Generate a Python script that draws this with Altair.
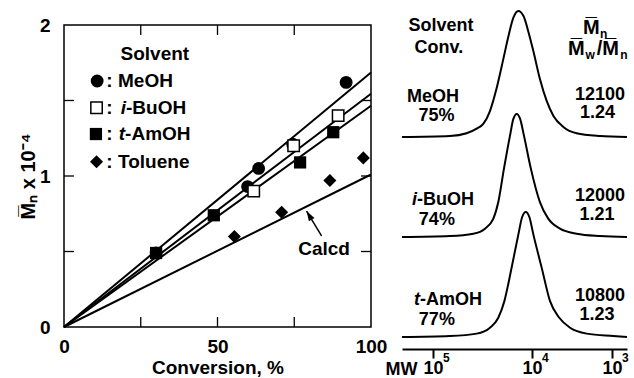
import altair as alt
import pandas as pd

FONT = "Liberation Sans"

# ---------------- left panel: Mn vs conversion ----------------
meoh_conv = [30.0, 59.8, 63.4, 74.5, 91.9]
meoh_mn = [0.49, 0.93, 1.05, 1.21, 1.62]
ibuoh_conv = [61.8, 74.8, 89.3]
ibuoh_mn = [0.90, 1.20, 1.40]
tamoh_conv = [30.0, 48.8, 76.9, 87.7]
tamoh_mn = [0.49, 0.74, 1.09, 1.29]
tol_conv = [55.5, 70.9, 86.6, 97.5]
tol_mn = [0.60, 0.76, 0.97, 1.12]

fit_names = ["MeOH", "i-BuOH", "t-AmOH", "Calcd"]
fit_mn_at_100 = [1.685, 1.545, 1.465, 1.01]

x_label_values = [0, 50, 100]
y_label_values = [0, 1, 2]
x_minor_ticks = [25, 50, 75]
y_minor_ticks = [0.5, 1.0, 1.5]

legend_title = "Solvent"
legend_italic = ["", "i", "t", ""]
legend_rest = ["MeOH", "-BuOH", "-AmOH", "Toluene"]
legend_sym_x = [10.8, 10.6, 10.4, 10.6]
legend_y = [1.629, 1.452, 1.278, 1.095]
legend_colon_x = 13.8
legend_rest_x = [17.6, 20.2, 19.9, 17.6]
legend_title_xy = (29.6, 1.805)

calcd_label_xy = (84.7, 0.517)
arrow_tail = (83.9, 0.603)
arrow_head = (79.0, 0.768)

# ---------------- right panel: GPC traces ----------------
trace_names = ["MeOH", "i-BuOH", "t-AmOH"]
trace_offset = [2, 1, 0]
trace_peak = [1.26, 1.23, 1.25]
meoh_pos = [0, 21.3, 28.7, 33.2, 36.2, 39.1, 42.1, 45.0, 47.3, 49.5, 51.7, 54.0, 56.1,
            58.4, 61.3, 64.3, 67.3, 71.7, 77.6, 88.0, 100]
meoh_int = [0, .008, .03, .066, .106, .206, .39, .616, .80, .947, 1.0, .96, .84,
            .68, .46, .286, .167, .08, .03, .008, 0]
ibuoh_pos = [0, 21.3, 31.7, 36.9, 40.6, 42.8, 45.3, 48.0, 49.5, 51.0, 52.5, 54.2, 57.3,
             61.3, 65.0, 70.2, 77.6, 88.0, 100]
ibuoh_int = [0, .008, .027, .068, .149, .284, .554, .824, .96, 1.0, .96, .824, .554,
             .284, .149, .068, .027, .008, 0]
tamoh_pos = [0, 21.3, 33.2, 39.1, 42.8, 45.5, 48.7, 51.7, 53.4, 55.0, 56.6, 58.4, 62.1,
             65.8, 69.9, 74.7, 82.1, 93.9, 100]
tamoh_int = [0, .008, .027, .074, .154, .287, .553, .819, .96, 1.0, .96, .819, .553,
             .287, .154, .074, .027, .008, 0]

mw_tick_pos = [13.8, 57.8, 93.3]
mw_tick_base = "10"
mw_tick_exp = ["5", "4", "3"]
mw_exp_y = -0.21

r_center_text = ["Solvent", "Conv.", "MeOH", "75%", "74%", "77%",
                 "12100", "1.24", "12000", "1.21", "10800", "1.23"]
r_center_x = [17.3, 16.4, 13.8, 15.3, 15.5, 15.5, 88.0, 86.9, 88.0, 86.7, 88.0, 86.7]
r_center_y = [3.11, 2.89, 2.405, 2.215, 1.175, 0.175, 2.425, 2.245, 1.41, 1.22, 0.41, 0.22]
r_italic = ["i", "t"]
r_rest = ["-BuOH", "-AmOH"]
r_split_x = [6.7, 8.0]
r_split_y = [1.37, 0.375]
# header  Mn  /  Mw/Mn  (big letters + small subscripts)
hdr_big = ["M\u0305", "M\u0305", "/", "M\u0305"]
hdr_big_x = [80.4, 73.8, 86.6, 89.0]
hdr_big_y = [3.09, 2.88, 2.88, 2.88]
hdr_sub = ["n", "w", "n"]
hdr_sub_x = [88.0, 81.6, 97.0]
hdr_sub_y = [3.09, 2.88, 2.88]

# ================= left chart =================
W_L, H_L = 307, 302
LX = alt.Scale(domain=[0, 100], nice=False, zero=False)
LY = alt.Scale(domain=[0, 2], nice=False, zero=False)
lx_axis = alt.Axis(values=x_label_values, ticks=False, domain=False, grid=False,
                   labelPadding=10, labelFlush=False, labelOverlap=False, labelFontSize=19, format=".0f",
                   title="Conversion, %", titleFontSize=19, titleY=46,
                   titleBaseline="alphabetic")
ly_axis = alt.Axis(values=y_label_values, ticks=False, domain=False, grid=False,
                   labelPadding=14, labelFlush=False, labelOverlap=False, labelFontSize=19, format=".0f",
                   title="M\u0305\u2099 x 10\u207b\u2074", titleFontSize=20, titleAngle=270,
                   titleX=-36, titleY=151, titleBaseline="middle", titleAlign="center")


def lx(f="x"):
    return alt.X(f"{f}:Q", scale=LX, axis=lx_axis)


def ly(f="y"):
    return alt.Y(f"{f}:Q", scale=LY, axis=ly_axis)


fit_rows = []
for n, m in zip(fit_names, fit_mn_at_100):
    fit_rows.append({"name": n, "x": 0, "y": 0})
    fit_rows.append({"name": n, "x": 100, "y": m})
fits = alt.Chart(pd.DataFrame(fit_rows)).mark_line(color="black", strokeWidth=2).encode(
    x=lx(), y=ly(), detail="name:N")

xt = pd.DataFrame({"x": x_minor_ticks})
yt = pd.DataFrame({"y": y_minor_ticks})
tick_style = dict(color="black", strokeWidth=1.3)
t_top = alt.Chart(xt).mark_rule(**tick_style).encode(x=lx(), y=alt.value(0), y2=alt.value(10))
t_bot = alt.Chart(xt).mark_rule(**tick_style).encode(x=lx(), y=alt.value(H_L - 10), y2=alt.value(H_L))
t_left = alt.Chart(yt).mark_rule(**tick_style).encode(y=ly(), x=alt.value(0), x2=alt.value(10))
t_right = alt.Chart(yt).mark_rule(**tick_style).encode(y=ly(), x=alt.value(W_L - 10), x2=alt.value(W_L))

circ = pd.DataFrame({"x": meoh_conv + [legend_sym_x[0]], "y": meoh_mn + [legend_y[0]]})
osq = pd.DataFrame({"x": ibuoh_conv + [legend_sym_x[1]], "y": ibuoh_mn + [legend_y[1]]})
fsq = pd.DataFrame({"x": tamoh_conv + [legend_sym_x[2]], "y": tamoh_mn + [legend_y[2]]})
dia = pd.DataFrame({"x": tol_conv + [legend_sym_x[3]], "y": tol_mn + [legend_y[3]]})

p_circ = alt.Chart(circ).mark_point(shape="circle", filled=True, color="black", opacity=1, size=165).encode(x=lx(), y=ly())
p_osq = alt.Chart(osq).mark_point(shape="square", filled=True, fill="white", stroke="black", strokeWidth=1.5,
                                  opacity=1, size=130).encode(x=lx(), y=ly())
p_fsq = alt.Chart(fsq).mark_point(shape="square", filled=True, color="black", opacity=1, size=150).encode(x=lx(), y=ly())
p_dia = alt.Chart(dia).mark_point(shape="diamond", filled=True, color="black", opacity=1, size=170).encode(x=lx(), y=ly())

txt_style = dict(font=FONT, fontWeight="bold", color="black", fontSize=19)

leg_title = alt.Chart(pd.DataFrame({"x": [legend_title_xy[0]], "y": [legend_title_xy[1]], "t": [legend_title]})).mark_text(
    **txt_style, align="center", baseline="middle").encode(x=lx(), y=ly(), text="t:N")
leg_colon = alt.Chart(pd.DataFrame({"x": [legend_colon_x] * 4, "y": legend_y, "t": [":"] * 4})).mark_text(
    **txt_style, align="left", baseline="middle").encode(x=lx(), y=ly(), text="t:N")
leg_rest = alt.Chart(pd.DataFrame({"x": legend_rest_x, "y": legend_y, "t": legend_rest})).mark_text(
    **txt_style, align="left", baseline="middle").encode(x=lx(), y=ly(), text="t:N")
leg_it_df = pd.DataFrame({"x": legend_rest_x, "y": legend_y, "t": legend_italic})
leg_it_df = leg_it_df[leg_it_df["t"] != ""]
leg_it = alt.Chart(leg_it_df).mark_text(
    **txt_style, align="right", baseline="middle", fontStyle="italic").encode(x=lx(), y=ly(), text="t:N")

calcd = alt.Chart(pd.DataFrame({"x": [calcd_label_xy[0]], "y": [calcd_label_xy[1]], "t": ["Calcd"]})).mark_text(
    **txt_style, align="center", baseline="middle").encode(x=lx(), y=ly(), text="t:N")
arrow_df = pd.DataFrame({"x": [arrow_tail[0]], "y": [arrow_tail[1]], "x2": [arrow_head[0]], "y2": [arrow_head[1]]})
arrow_line = alt.Chart(arrow_df).mark_rule(color="black", strokeWidth=1.5).encode(
    x=lx(), y=ly(), x2="x2:Q", y2="y2:Q")
head_df = pd.DataFrame({"x": [arrow_head[0]], "y": [arrow_head[1]]})
arrow_tip = alt.Chart(head_df).mark_point(shape="M0,0L0.65,2L-0.65,2Z", filled=True, color="black", opacity=1,
                                         size=100, angle=329).encode(x=lx(), y=ly())

left = alt.layer(fits, t_top, t_bot, t_left, t_right, p_circ, p_osq, p_fsq, p_dia,
                 leg_title, leg_colon, leg_rest, leg_it, calcd, arrow_line, arrow_tip).properties(
    width=W_L, height=H_L, view=alt.ViewBackground(stroke="black", strokeWidth=1.5))

# ================= right chart =================
W_R, H_R = 225, 302
RX = alt.Scale(domain=[0, 100], nice=False, zero=False)
RY = alt.Scale(domain=[0.1, 3.12], nice=False, zero=False)
rx_axis = alt.Axis(values=mw_tick_pos, labelExpr=f"'{mw_tick_base}'", offset=22, grid=False,
                   domain=True, domainColor="black", domainWidth=2,
                   ticks=True, tickColor="black", tickWidth=2, tickSize=9,
                   labelPadding=1, labelFontSize=18, labelFlush=False, labelOverlap=False,
                   title="MW", titleFontSize=18, titleX=-1, titleY=20, titleAngle=0,
                   titleAlign="center", titleBaseline="middle")


def rx():
    return alt.X("x:Q", scale=RX, axis=rx_axis)


def ry():
    return alt.Y("y:Q", scale=RY, axis=None)


rows = []
for name, off, pk, pos, inten in zip(trace_names, trace_offset, trace_peak,
                                     [meoh_pos, ibuoh_pos, tamoh_pos],
                                     [meoh_int, ibuoh_int, tamoh_int]):
    for p, v in zip(pos, inten):
        rows.append({"name": name, "x": p, "y": off + pk * v})
traces = alt.Chart(pd.DataFrame(rows)).mark_line(color="black", strokeWidth=2, interpolate="monotone").encode(
    x=rx(), y=ry(), detail="name:N")

rstyle = dict(font=FONT, fontWeight="bold", color="black", fontSize=18)
r_center = alt.Chart(pd.DataFrame({"x": r_center_x, "y": r_center_y, "t": r_center_text})).mark_text(
    **rstyle, align="center", baseline="middle").encode(x=rx(), y=ry(), text="t:N")
r_rest_l = alt.Chart(pd.DataFrame({"x": r_split_x, "y": r_split_y, "t": r_rest})).mark_text(
    **rstyle, align="left", baseline="middle").encode(x=rx(), y=ry(), text="t:N")
r_it_l = alt.Chart(pd.DataFrame({"x": r_split_x, "y": r_split_y, "t": r_italic})).mark_text(
    **rstyle, align="right", baseline="middle", fontStyle="italic").encode(x=rx(), y=ry(), text="t:N")
h_big = alt.Chart(pd.DataFrame({"x": hdr_big_x, "y": hdr_big_y, "t": hdr_big})).mark_text(
    font=FONT, fontWeight="bold", color="black", fontSize=20, align="left", baseline="middle").encode(
    x=rx(), y=ry(), text="t:N")
h_sub = alt.Chart(pd.DataFrame({"x": hdr_sub_x, "y": hdr_sub_y, "t": hdr_sub})).mark_text(
    font=FONT, fontWeight="bold", color="black", fontSize=12, align="left", baseline="middle", dy=6).encode(
    x=rx(), y=ry(), text="t:N")
mw_exp = alt.Chart(pd.DataFrame({"x": mw_tick_pos, "y": [mw_exp_y] * 3, "t": mw_tick_exp})).mark_text(
    font=FONT, fontWeight="bold", color="black", fontSize=12, align="left", baseline="middle", dx=10).encode(
    x=rx(), y=ry(), text="t:N")

right = alt.layer(traces, r_center, r_rest_l, r_it_l, h_big, h_sub, mw_exp).properties(
    width=W_R, height=H_R, view=alt.ViewBackground(stroke="transparent", strokeWidth=0))

chart = alt.hconcat(left, right, spacing=31, bounds="flush").properties(
    padding={"left": 17, "top": 7, "right": 0, "bottom": 0}
).configure_axis(
    labelFont=FONT, titleFont=FONT, labelFontWeight="bold", titleFontWeight="bold",
    labelColor="black", titleColor="black"
)

chart.save("out.html", embed_options={"renderer": "svg", "actions": False})
